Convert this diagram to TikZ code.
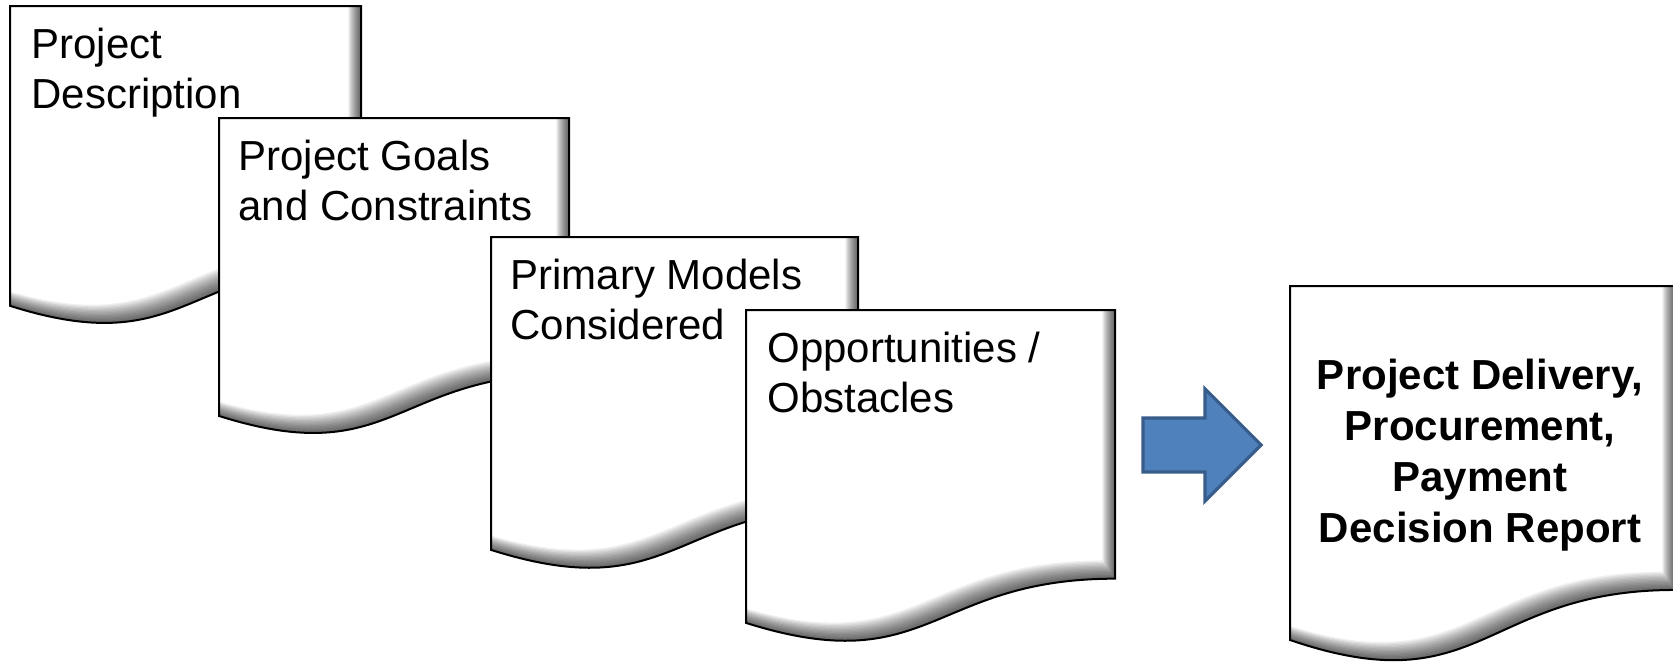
\documentclass[tikz,border=0pt]{standalone}
\usepackage{fontspec}
\setmainfont{Liberation Sans}
\definecolor{arrowfill}{HTML}{4F81BD}
\definecolor{arrowline}{HTML}{385D8A}
\tikzset{
  doctext/.style={anchor=north west, inner sep=0pt, align=left, font=\fontsize{21}{25}\selectfont},
  docbold/.style={anchor=north, inner sep=0pt, align=center, font=\fontsize{21}{25.5}\selectfont\bfseries},
  docborder/.style={draw=black, line width=1pt, line join=miter},
  docshade/.style={fill=black, opacity=0.06, even odd rule},
  blockarrow/.style={fill=arrowfill, draw=arrowline, line width=1.6pt, line join=miter}
}
% document shape: x0, y0, width, height (pixel units, y downwards)
\newcommand{\docpath}[4]{({#1},{#2}) -- ({#1+#3},{#2}) -- ({#1+#3},{#2+0.802*#4})
  .. controls ({#1+0.5*#3},{#2+0.802*#4}) and ({#1+0.5*#3},{#2+1.1075*#4}) .. ({#1},{#2+0.934*#4}) -- cycle}
\newcommand{\drawdoc}[4]{%
  \fill[white] \docpath{#1}{#2}{#3}{#4};
  \begin{scope}
    \clip \docpath{#1}{#2}{#3}{#4};
    \foreach \k in {1,...,14}{
      \fill[docshade] ({#1-40},{#2-40}) rectangle ({#1+#3+40},{#2+#4+40})
        \docpath{#1-0.9*\k}{#2-1.3*\k}{#3}{#4};
    }
  \end{scope}
  \draw[docborder] \docpath{#1}{#2}{#3}{#4};
}
\begin{document}
\begin{tikzpicture}[x=0.5pt, y=-0.5pt]
  \useasboundingbox (0,0) rectangle (1673,664);
  \fill[white] (0,0) rectangle (1673,664);
  \clip (0,0) rectangle (1673,664);

  % documents
  \drawdoc{10}{6}{351}{321}
  \node[doctext] (d1) at (31,28) {Project\\Description};

  \drawdoc{219}{118}{350}{319}
  \node[doctext] (d2) at (238,140) {Project Goals\\and Constraints};

  \drawdoc{491}{237}{367}{335}
  \node[doctext] (d3) at (510,259) {Primary Models\\Considered};

  \drawdoc{746}{310}{369}{335}
  \node[doctext] (d4) at (767,332) {Opportunities /\\Obstacles};

  \drawdoc{1290}{286}{385}{379}
  \node[docbold] (d5) at (1480,359) {Project Delivery,\\Procurement,\\Payment\\Decision Report};

  % block arrow
  \coordinate (a1) at (1143,418);
  \coordinate (a2) at (1205,418);
  \coordinate (a3) at (1205,389);
  \coordinate (a4) at (1261,445);
  \coordinate (a5) at (1205,501);
  \coordinate (a6) at (1205,472);
  \coordinate (a7) at (1143,472);
  \path[blockarrow] (a1) -- (a2) -- (a3) -- (a4) -- (a5) -- (a6) -- (a7) -- cycle;
\end{tikzpicture}
\end{document}
